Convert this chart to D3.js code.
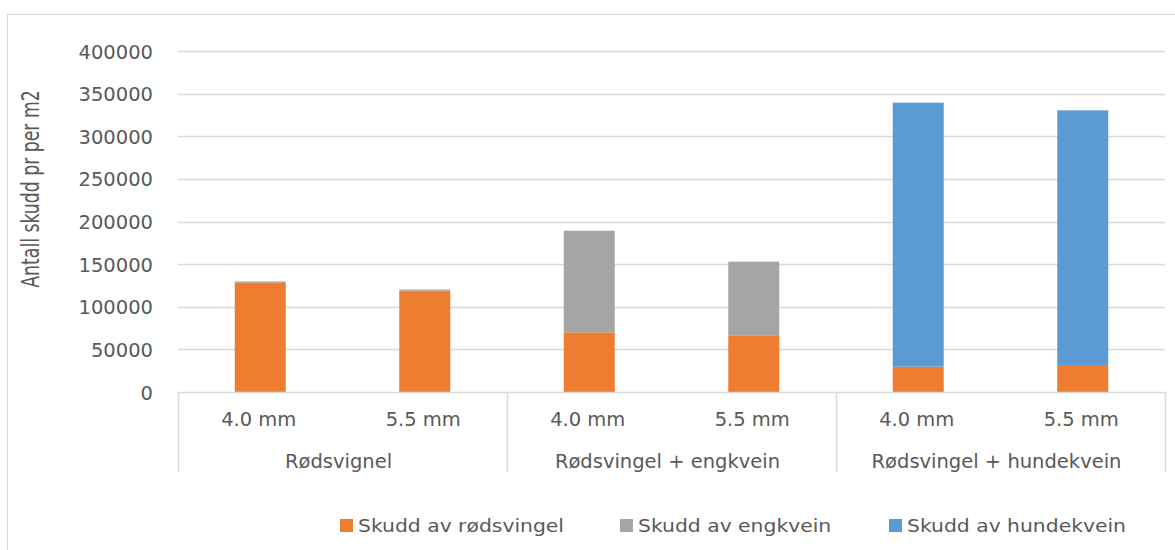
<!DOCTYPE html>
<html>
<head>
<meta charset="utf-8">
<script src="https://cdn.jsdelivr.net/npm/d3@7"></script>
<style>
  html, body { margin: 0; padding: 0; background: #fff; }
  svg { display: block; }
</style>
</head>
<body>
<svg id="chart" width="1175" height="550"></svg>
<script>
// Shoot density per square metre by seed mixture and seed size
const groups = ["Rødsvignel", "Rødsvingel + engkvein", "Rødsvingel + hundekvein"];
const sizes = ["4.0 mm", "5.5 mm"];
const seriesNames = ["Skudd av rødsvingel", "Skudd av engkvein", "Skudd av hundekvein"];
const seriesColors = ["#ED7D31", "#A5A5A5", "#5B9BD5"];
const rodsvingel = [128500, 119000, 70000, 66500, 29700, 31700];
const engkvein   = [1200, 1300, 119200, 86400, 0, 0];
const hundekvein = [0, 0, 0, 0, 309700, 298700];
const yTicks = [0, 50000, 100000, 150000, 200000, 250000, 300000, 350000, 400000];
const yTitle = "Antall skudd pr per m2";

const svg = d3.select("#chart");
const W = 1175, H = 550;
const plot = { left: 178, right: 1165, top: 51, bottom: 392 };
const textColor = "#595959";
const gridColor = "#d9d9d9";
const tickFont = "DejaVu Sans, Verdana, sans-serif";
const narrowFont = "DejaVu Sans Condensed, DejaVu Sans, sans-serif";

// chart frame
svg.append("rect")
  .attr("x", 7.5).attr("y", 14.5)
  .attr("width", W + 10).attr("height", H + 10)
  .attr("fill", "#fff").attr("stroke", gridColor).attr("stroke-width", 1);

// one slot per group/size combination
const keys = [];
groups.forEach(g => sizes.forEach(s => keys.push(g + "|" + s)));
const rows = keys.map((k, i) => ({
  key: k,
  group: k.split("|")[0],
  size: k.split("|")[1],
  v0: rodsvingel[i], v1: engkvein[i], v2: hundekvein[i]
}));

const x = d3.scaleBand().domain(keys).range([plot.left, plot.right]).paddingInner(0.69).paddingOuter(0.345);
const y = d3.scaleLinear().domain([0, 400000]).range([plot.bottom, plot.top]);

// horizontal gridlines
svg.append("g")
  .selectAll("line")
  .data(yTicks.filter(d => d > 0))
  .join("line")
  .attr("x1", plot.left).attr("x2", plot.right)
  .attr("y1", d => Math.round(y(d)) + 0.5).attr("y2", d => Math.round(y(d)) + 0.5)
  .attr("stroke", gridColor).attr("stroke-width", 1.5);

// y axis labels
const yAxis = d3.axisLeft(y).tickValues(yTicks).tickSize(0).tickPadding(0).tickFormat(d3.format("d"));
const yg = svg.append("g").attr("transform", `translate(${plot.left - 25},0)`).call(yAxis);
yg.select(".domain").remove();
yg.selectAll("text")
  .attr("fill", textColor)
  .attr("font-family", tickFont)
  .attr("font-size", "19.5px")
  .attr("dy", "0.36em");

// y axis title (tall, narrow lettering)
svg.append("text")
  .attr("transform", `translate(39,189) rotate(-90) scale(0.8,1)`)
  .attr("text-anchor", "middle")
  .attr("fill", textColor)
  .attr("font-family", narrowFont)
  .attr("font-size", "24px")
  .text(yTitle);

// stacked bars
const stack = d3.stack().keys(["v0", "v1", "v2"]);
const stacked = stack(rows);
svg.append("g")
  .selectAll("g")
  .data(stacked)
  .join("g")
  .attr("fill", (d, i) => seriesColors[i])
  .selectAll("rect")
  .data(d => d.filter(p => p[1] > p[0]))
  .join("rect")
  .attr("x", d => x(d.data.key))
  .attr("width", x.bandwidth())
  .attr("y", d => y(d[1]))
  .attr("height", d => y(d[0]) - y(d[1]));

// category axis: baseline, group separators, labels
const axisG = svg.append("g");
axisG.append("line")
  .attr("x1", plot.left).attr("x2", plot.right)
  .attr("y1", plot.bottom + 0.5).attr("y2", plot.bottom + 0.5)
  .attr("stroke", gridColor).attr("stroke-width", 1.5);

const groupEdges = groups.map((g, i) => x(keys[i * sizes.length]) - x.step() * x.paddingOuter());
groupEdges.push(plot.right);
axisG.selectAll("line.sep")
  .data(groupEdges)
  .join("line")
  .attr("class", "sep")
  .attr("x1", d => Math.round(d) + 0.5).attr("x2", d => Math.round(d) + 0.5)
  .attr("y1", plot.bottom).attr("y2", 472)
  .attr("stroke", gridColor).attr("stroke-width", 1.5);

axisG.selectAll("text.size")
  .data(rows)
  .join("text")
  .attr("class", "size")
  .attr("x", d => x(d.key) + x.bandwidth() / 2 - 1.5)
  .attr("y", 426)
  .attr("text-anchor", "middle")
  .attr("fill", textColor)
  .attr("font-family", tickFont)
  .attr("font-size", "19.5px")
  .text(d => d.size);

axisG.selectAll("text.group")
  .data(groups)
  .join("text")
  .attr("class", "group")
  .attr("x", (d, i) => (groupEdges[i] + groupEdges[i + 1]) / 2 - 4)
  .attr("y", 468)
  .attr("text-anchor", "middle")
  .attr("fill", textColor)
  .attr("font-family", tickFont)
  .attr("font-size", "19.5px")
  .text(d => d);

// legend
const legendX = [340, 620, 889];
const legend = svg.append("g")
  .selectAll("g")
  .data(seriesNames)
  .join("g")
  .attr("transform", (d, i) => `translate(${legendX[i]},519)`);
legend.append("rect")
  .attr("width", 13).attr("height", 13)
  .attr("fill", (d, i) => seriesColors[i]);
legend.append("text")
  .attr("transform", "translate(18,6.5) scale(1.13,1)")
  .attr("dy", "0.36em")
  .attr("fill", textColor)
  .attr("font-family", tickFont)
  .attr("font-size", "18px")
  .text(d => d);
</script>
</body>
</html>
